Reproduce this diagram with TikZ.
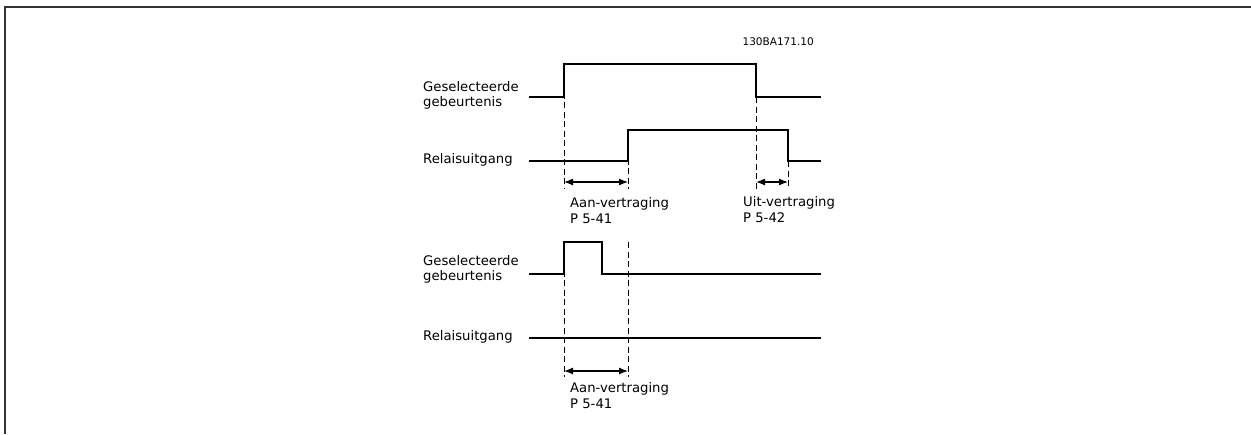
\documentclass[tikz,border=0pt]{standalone}
\usepackage{fontspec}
\setmainfont{DejaVu Sans}
\usetikzlibrary{arrows.meta,positioning}

\begin{document}
\begin{tikzpicture}[x=1pt, y=-1pt, font=\fontsize{13.2}{15.5}\selectfont,
    signal/.style={line width=1.2pt},
    guide/.style={line width=1pt, dash pattern=on 6pt off 3.5pt},
    delay/.style={line width=1.2pt, {Latex[length=9pt,width=7pt]}-{Latex[length=9pt,width=7pt]}},
    lbl/.style={anchor=west, align=left, inner sep=0pt}]
    \useasboundingbox (0,0) rectangle (1251,434);
    % frame
    \draw[line width=1.2pt, black!80] (5,434) -- (5,7) -- (1251,7);
    \node[anchor=east, inner sep=0pt, font=\fontsize{10.5}{12}\selectfont] (docid) at (814,42) {130BA171.10};

    % upper case: event longer than the on-delay
    \node[lbl] (evt1) at (423,95.5) {Geselecteerde\\gebeurtenis};
    \node[lbl] (rel1) at (423,160) {Relaisuitgang};
    \draw[signal] (529,97) -- (564,97) -- (564,64) coordinate (ev1on)
      -- (756,64) -- (756,97) coordinate (ev1off) -- (821,97);
    \draw[signal] (529,161) -- (628,161) -- (628,130) coordinate (rel1on)
      -- (788,130) -- (788,161) coordinate (rel1off) -- (821,161);
    \coordinate (base1) at (0,189);
    \coordinate (dim1) at (0,182);
    \foreach \c in {ev1on,rel1on,ev1off,rel1off}
      \draw[guide] (\c) -- (\c |- base1);
    \draw[delay] (ev1on |- dim1) -- (rel1on |- dim1);
    \draw[delay] (ev1off |- dim1) -- (rel1off |- dim1);
    \node[lbl] (aan1) at (570,210.5) {Aan-vertraging\\P 5-41};
    \node[lbl] (uit1) at (743,209.5) {Uit-vertraging\\P 5-42};

    % lower case: event shorter than the on-delay
    \node[lbl] (evt2) at (423,269.5) {Geselecteerde\\gebeurtenis};
    \node[lbl] (rel2) at (423,337) {Relaisuitgang};
    \draw[signal] (529,274) -- (564,274) -- (564,242) coordinate (ev2on)
      -- (602,242) -- (602,274) -- (821,274);
    \draw[signal] (529,338) -- (821,338);
    \coordinate (rel2on) at (628,242);
    \coordinate (base2) at (0,377);
    \coordinate (dim2) at (0,371);
    \foreach \c in {ev2on,rel2on}
      \draw[guide] (\c) -- (\c |- base2);
    \draw[delay] (ev2on |- dim2) -- (rel2on |- dim2);
    \node[lbl] (aan2) at (570,395.5) {Aan-vertraging\\P 5-41};
\end{tikzpicture}
\end{document}
